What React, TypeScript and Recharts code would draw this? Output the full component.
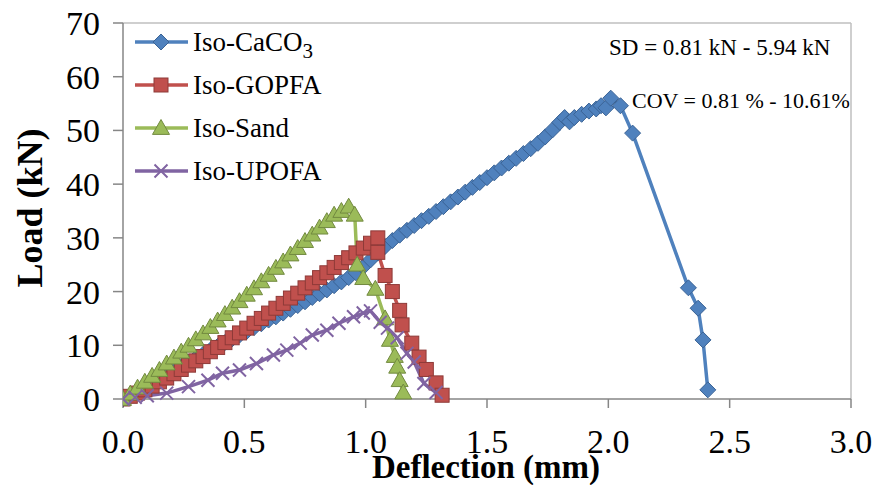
import React from 'react';
import { LineChart, Line, XAxis, YAxis, ReferenceLine, Customized } from 'recharts';

const FONT = '"Liberation Serif", "Times New Roman", serif';

const xTicks = [0, 0.5, 1, 1.5, 2, 2.5, 3];
const yTicks = [0, 10, 20, 30, 40, 50, 60, 70];

// [deflection mm, load kN]
const isoCaCO3 = [
  [0, 0], [0.03, 0.6], [0.06, 1.4], [0.09, 2.2], [0.12, 3.0], [0.15, 3.8], [0.18, 4.6], [0.21, 5.4],
  [0.24, 6.1], [0.27, 6.9], [0.3, 7.6], [0.33, 8.3], [0.36, 9.1], [0.39, 9.8], [0.42, 10.5], [0.45, 11.2],
  [0.48, 11.9], [0.51, 12.6], [0.54, 13.3], [0.57, 14.0], [0.6, 14.7], [0.63, 15.3], [0.66, 16.0],
  [0.69, 16.7], [0.72, 17.4], [0.75, 18.1], [0.78, 18.9], [0.81, 19.6], [0.84, 20.3], [0.87, 21.1],
  [0.9, 21.8], [0.93, 22.6], [0.96, 23.5], [0.99, 24.6], [1.02, 25.9], [1.05, 27.2], [1.08, 28.4],
  [1.11, 29.5], [1.14, 30.5], [1.17, 31.4], [1.2, 32.3], [1.23, 33.2], [1.26, 34.0], [1.29, 34.9],
  [1.32, 35.8], [1.35, 36.7], [1.38, 37.6], [1.41, 38.5], [1.44, 39.4], [1.47, 40.3], [1.5, 41.2],
  [1.53, 42.1], [1.56, 43.0], [1.59, 43.9], [1.62, 44.8], [1.65, 45.7], [1.68, 46.6], [1.71, 47.6],
  [1.74, 48.8], [1.77, 50.1], [1.8, 51.5], [1.82, 52.4], [1.84, 51.6], [1.86, 52.4], [1.89, 53.0],
  [1.92, 53.6], [1.95, 54.0], [1.97, 54.6], [1.99, 54.2], [2.01, 56.0], [2.05, 54.6], [2.1, 49.5],
  [2.33, 20.7], [2.37, 16.9], [2.39, 11.0], [2.41, 1.7],
];

const isoGOPFA = [
  [0, 0], [0.03, 0.5], [0.06, 1.1], [0.09, 1.7], [0.12, 2.4], [0.15, 3.2], [0.18, 3.9], [0.21, 4.7],
  [0.24, 5.5], [0.27, 6.3], [0.3, 7.1], [0.33, 7.9], [0.36, 8.8], [0.39, 9.6], [0.42, 10.5], [0.45, 11.4],
  [0.48, 12.3], [0.51, 13.2], [0.54, 14.1], [0.57, 15.0], [0.6, 16.0], [0.63, 16.9], [0.66, 17.8],
  [0.69, 18.8], [0.72, 19.7], [0.75, 20.7], [0.78, 21.6], [0.81, 22.6], [0.84, 23.5], [0.87, 24.5],
  [0.9, 25.4], [0.93, 26.3], [0.96, 27.2], [0.99, 28.1], [1.02, 29.0], [1.05, 30.0], [1.05, 27.3],
  [1.08, 23.0], [1.11, 20.0], [1.14, 16.5], [1.15, 13.8], [1.19, 10.4], [1.22, 7.8], [1.25, 5.5],
  [1.29, 3.0], [1.315, 0.7],
];

const isoSand = [
  [0, 0], [0.03, 1.0], [0.06, 2.1], [0.09, 3.2], [0.12, 4.3], [0.15, 5.4], [0.18, 6.6], [0.21, 7.7],
  [0.24, 8.8], [0.27, 9.9], [0.3, 11.1], [0.33, 12.2], [0.36, 13.4], [0.39, 14.6], [0.42, 15.8],
  [0.45, 17.0], [0.48, 18.2], [0.51, 19.4], [0.54, 20.6], [0.57, 21.9], [0.6, 23.1], [0.63, 24.4],
  [0.66, 25.6], [0.69, 26.9], [0.72, 28.1], [0.75, 29.4], [0.78, 30.6], [0.81, 31.9], [0.84, 33.1],
  [0.87, 34.3], [0.9, 35.0], [0.93, 35.8], [0.955, 34.3], [0.965, 25.0], [0.99, 22.5], [1.04, 20.5],
  [1.08, 15.0], [1.1, 11.0], [1.12, 8.0], [1.13, 6.0], [1.14, 3.5], [1.155, 1.2],
];

const isoUPOFA = [
  [0, 0], [0.05, 0.3], [0.1, 0.6], [0.18, 1.1], [0.27, 2.3], [0.35, 3.5], [0.41, 4.8], [0.48, 5.4],
  [0.55, 6.6], [0.62, 8.2], [0.675, 9.1], [0.73, 10.4], [0.78, 11.9], [0.84, 12.8], [0.89, 14.1],
  [0.95, 15.3], [0.99, 16.0], [1.02, 16.4], [1.06, 14.3], [1.09, 13.2], [1.13, 11.4], [1.17, 8.5],
  [1.2, 6.9], [1.24, 2.9], [1.29, 1.2],
];

const toRows = (pts: number[][]) => pts.map(([x, y]) => ({ x, y }));

const Diamond = ({ cx, cy, s = 8 }: any) => (
  <path d={`M${cx},${cy - s}L${cx + s},${cy}L${cx},${cy + s}L${cx - s},${cy}Z`} fill="#4F81BD" stroke="#3A6395" strokeWidth={1} />
);
const Square = ({ cx, cy, s = 7 }: any) => (
  <rect x={cx - s} y={cy - s} width={s * 2} height={s * 2} fill="#C0504D" stroke="#8E3A38" strokeWidth={1} />
);
const Triangle = ({ cx, cy, s = 8.5 }: any) => (
  <path d={`M${cx},${cy - s}L${cx + s},${cy + s * 0.75}L${cx - s},${cy + s * 0.75}Z`} fill="#9BBB59" stroke="#71893F" strokeWidth={1} />
);
const Cross = ({ cx, cy, s = 6.5 }: any) => (
  <path d={`M${cx - s},${cy - s}L${cx + s},${cy + s}M${cx + s},${cy - s}L${cx - s},${cy + s}`} stroke="#8064A2" strokeWidth={2} fill="none" />
);

const series = [
  { name: 'Iso-CaCO', sub: '3', data: isoCaCO3, color: '#4F81BD', Marker: Diamond },
  { name: 'Iso-GOPFA', sub: '', data: isoGOPFA, color: '#C0504D', Marker: Square },
  { name: 'Iso-Sand', sub: '', data: isoSand, color: '#9BBB59', Marker: Triangle },
  { name: 'Iso-UPOFA', sub: '', data: isoUPOFA, color: '#8064A2', Marker: Cross },
];

const Overlay = () => (
  <g fontFamily={FONT} fill="#000">
    {series.map((s, i) => {
      const cy = 42 + i * 43;
      return (
        <g key={s.name}>
          <line x1={135} y1={cy} x2={188} y2={cy} stroke={s.color} strokeWidth={3.5} />
          <s.Marker cx={161} cy={cy} />
          <text x={193} y={cy + 9} fontSize={27}>
            {s.name}
            {s.sub && <tspan fontSize={21} dy={7}>{s.sub}</tspan>}
          </text>
        </g>
      );
    })}
    <text x={486} y={478} textAnchor="middle" fontSize={33} fontWeight="bold">Deflection (mm)</text>
    <text x={30} y={208} textAnchor="middle" fontSize={36} fontWeight="bold" transform="rotate(-90 30 208)" dy={12}>Load (kN)</text>
    <text x={609} y={55} fontSize={23}>SD = 0.81 kN - 5.94 kN</text>
    <text x={632} y={108} fontSize={22}>COV = 0.81 % - 10.61%</text>
  </g>
);

export default function App() {
  return (
    <div style={{ position: 'absolute', left: 0, top: 0, width: 873, height: 485, background: '#fff' }}>
      <LineChart width={873} height={485} margin={{ top: 23, right: 22, bottom: 26, left: 63 }}>
        <XAxis
          type="number"
          dataKey="x"
          domain={[0, 3]}
          ticks={xTicks}
          tickFormatter={(v: number) => v.toFixed(1)}
          height={60}
          tickSize={9}
          tickMargin={21}
          stroke="#868686"
          strokeWidth={1.5}
          tick={{ fill: '#000', fontFamily: FONT, fontSize: 34 }}
          allowDataOverflow
        />
        <YAxis
          type="number"
          domain={[0, 70]}
          ticks={yTicks}
          width={60}
          tickSize={10}
          tickMargin={13}
          stroke="#868686"
          strokeWidth={1.5}
          tick={{ fill: '#000', fontFamily: FONT, fontSize: 34 }}
        />
        <ReferenceLine y={70} stroke="#BFBFBF" strokeWidth={1.5} />
        <ReferenceLine x={3} stroke="#BFBFBF" strokeWidth={1.5} />
        {series.map((s) => (
          <Line
            key={s.name}
            data={toRows(s.data)}
            dataKey="y"
            type="linear"
            stroke={s.color}
            strokeWidth={3.5}
            isAnimationActive={false}
            dot={(p: any) => <s.Marker key={`${s.name}-${p.index}`} cx={p.cx} cy={p.cy} />}
            activeDot={false}
          />
        ))}
        <Customized component={Overlay} />
      </LineChart>
    </div>
  );
}
